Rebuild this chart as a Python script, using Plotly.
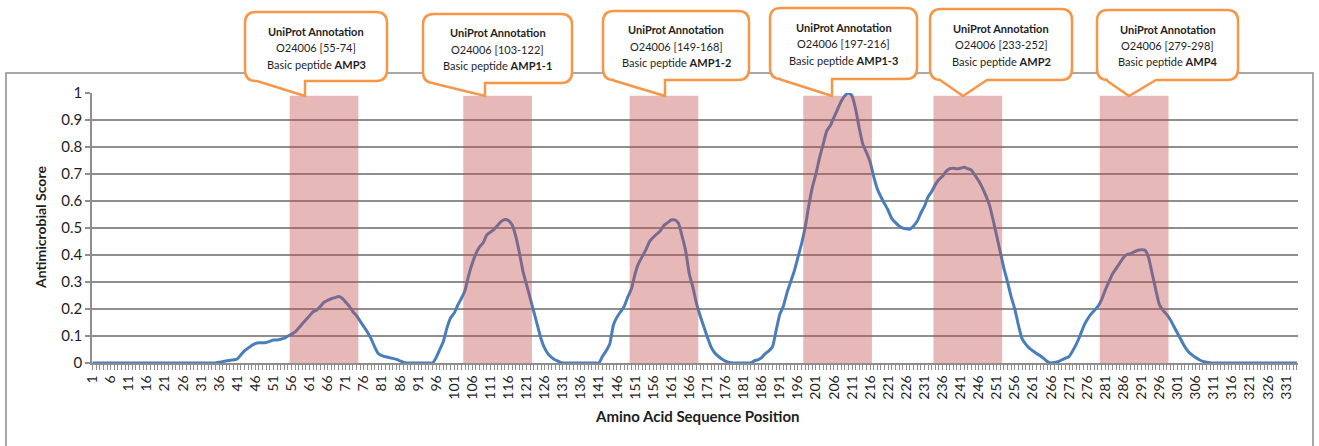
import plotly.graph_objects as go

# ---- data -------------------------------------------------------------
positions = list(range(1, 335))

scores = (
    [0.0] * 35
    + [0.003, 0.005, 0.008, 0.010, 0.012, 0.015, 0.030, 0.045, 0.055, 0.065,   # 36-45
       0.072, 0.075, 0.075, 0.076, 0.080, 0.085, 0.085, 0.088, 0.092, 0.100,   # 46-55
       0.106, 0.115, 0.130, 0.145, 0.160, 0.175, 0.190, 0.196, 0.210, 0.225,   # 56-65
       0.232, 0.238, 0.242, 0.246, 0.240, 0.225, 0.210, 0.190, 0.175, 0.155,   # 66-75
       0.135, 0.115, 0.090, 0.060, 0.035, 0.027, 0.023, 0.020, 0.017, 0.014,   # 76-85
       0.008, 0.002]                                                          # 86-87
    + [0.0] * 8                                                               # 88-95
    + [0.020, 0.050, 0.080, 0.130, 0.168, 0.185, 0.215, 0.240, 0.270, 0.325,   # 96-105
       0.370, 0.405, 0.430, 0.445, 0.475, 0.485, 0.495, 0.510, 0.525, 0.532,   # 106-115
       0.528, 0.512, 0.470, 0.410, 0.340, 0.290, 0.240, 0.190, 0.140, 0.090,   # 116-125
       0.055, 0.033, 0.020, 0.011, 0.005]                                     # 126-130
    + [0.0] * 11                                                              # 131-141
    + [0.025, 0.045, 0.070, 0.140, 0.170, 0.190, 0.210, 0.245, 0.275, 0.330,   # 142-151
       0.370, 0.395, 0.420, 0.450, 0.465, 0.478, 0.490, 0.510, 0.520, 0.530,   # 152-161
       0.530, 0.518, 0.470, 0.415, 0.330, 0.280, 0.220, 0.175, 0.135, 0.095,   # 162-171
       0.060, 0.038, 0.025, 0.015, 0.007, 0.002]                              # 172-177
    + [0.0] * 6                                                               # 178-183
    + [0.008, 0.012, 0.020, 0.035, 0.045, 0.060, 0.120, 0.180, 0.210, 0.260,   # 184-193
       0.300, 0.340, 0.390, 0.440, 0.500, 0.580, 0.650, 0.700, 0.760, 0.810,   # 194-203
       0.860, 0.880, 0.910, 0.940, 0.970, 0.990, 1.000, 0.990, 0.940, 0.870,   # 204-213
       0.810, 0.780, 0.745, 0.690, 0.645, 0.615, 0.590, 0.565, 0.535, 0.520,   # 214-223
       0.508, 0.500, 0.497, 0.496, 0.508, 0.525, 0.555, 0.580, 0.615, 0.635,   # 224-233
       0.660, 0.680, 0.692, 0.710, 0.720, 0.722, 0.720, 0.722, 0.725, 0.720,   # 234-243
       0.715, 0.695, 0.675, 0.650, 0.620, 0.585, 0.530, 0.470, 0.410, 0.350,   # 244-253
       0.300, 0.245, 0.200, 0.140, 0.090, 0.070, 0.055, 0.045, 0.035, 0.027,   # 254-263
       0.017, 0.005, 0.000, 0.002, 0.005, 0.012, 0.018, 0.024, 0.045, 0.070,   # 264-273
       0.100, 0.135, 0.160, 0.180, 0.195, 0.210, 0.235, 0.270, 0.300, 0.330,   # 274-283
       0.350, 0.370, 0.390, 0.402, 0.405, 0.412, 0.418, 0.420, 0.418, 0.390,   # 284-293
       0.330, 0.270, 0.215, 0.195, 0.180, 0.160, 0.135, 0.110, 0.085, 0.060,   # 294-303
       0.042, 0.030, 0.020, 0.012, 0.006, 0.003, 0.001]                       # 304-310
    + [0.0] * 24                                                              # 311-334
)

# UniProt-annotated basic peptides (O24006)
accession = "O24006"
peptide_names = ["AMP3", "AMP1-1", "AMP1-2", "AMP1-3", "AMP2", "AMP4"]
peptide_start = [55, 103, 149, 197, 233, 279]
peptide_end = [74, 122, 168, 216, 252, 298]

tick_positions = positions[::5]
tick_labels = [str(p) for p in tick_positions]
y_ticks = [0, 0.1, 0.2, 0.3, 0.4, 0.5, 0.6, 0.7, 0.8, 0.9, 1]
y_tick_labels = ["0", "0.1", "0.2", "0.3", "0.4", "0.5", "0.6", "0.7", "0.8", "0.9", "1"]

# ---- layout constants (pixels) -----------------------------------------
W, H = 1319, 446
ML, MR, MT, MB = 92, 21, 93, 83
PW, PH = W - ML - MR, H - MT - MB
FONT = "Lato, 'Open Sans', sans-serif"
GRID = "#8e8e8e"
ORANGE = "#F79646"
TEXT = "#1e1e1e"


def fx(x):
    return (x - ML) / PW


def fy(y):
    return (H - MB - y) / PH


# callout boxes: left, right, top, bottom, tail-left, tip-x, tail-right
callout_boxes = [
    (245, 387, 12, 81, 257, 305, 305),
    (423, 572, 14, 83, 432, 485, 485),
    (603, 749, 11, 80, 612, 665, 665),
    (770, 917, 8, 79, 779, 832, 832),
    (930, 1072, 9, 80, 940, 963, 987),
    (1097, 1238, 10, 80, 1106, 1129, 1156),
]
TIP_Y = 96
RADIUS = 11

fig = go.Figure()

fig.add_trace(go.Scatter(
    x=positions, y=scores, mode="lines",
    line=dict(color="#4A7EBB", width=3, shape="spline", smoothing=0.5),
    hoverinfo="x+y", showlegend=False,
))

shapes = []

# outer chart frame (open at the bottom edge of the page)
shapes.append(dict(
    type="path", xref="paper", yref="paper", layer="below",
    path=f"M {fx(6)},{fy(H + 5)} L {fx(6)},{fy(73)} L {fx(1313)},{fy(73)} L {fx(1313)},{fy(H + 5)}",
    line=dict(color="#8c8c8c", width=1.5),
))

# annotated peptide regions, drawn half a step to the right of each residue
for s, e in zip(peptide_start, peptide_end):
    shapes.append(dict(
        type="rect", xref="x", yref="y", layer="above",
        x0=s + 0.5, x1=e + 0.5, y0=0, y1=0.99,
        fillcolor="rgba(192,80,77,0.40)", line=dict(width=0),
    ))

# rounded callouts with tails
for (x0, x1, y0, y1, tl, tx, tr) in callout_boxes:
    r = RADIUS
    pts = [
        ("M", [(x0 + r, y0)]),
        ("L", [(x1 - r, y0)]),
        ("Q", [(x1, y0), (x1, y0 + r)]),
        ("L", [(x1, y1 - r)]),
        ("Q", [(x1, y1), (x1 - r, y1)]),
        ("L", [(tr, y1)]),
        ("L", [(tx, TIP_Y)]),
        ("L", [(tl, y1)]),
        ("L", [(x0 + r, y1)]),
        ("Q", [(x0, y1), (x0, y1 - r)]),
        ("L", [(x0, y0 + r)]),
        ("Q", [(x0, y0), (x0 + r, y0)]),
    ]
    path = " ".join(
        cmd + " " + " ".join(f"{fx(a):.5f},{fy(b):.5f}" for a, b in coords)
        for cmd, coords in pts
    ) + " Z"
    shapes.append(dict(
        type="path", xref="paper", yref="paper", layer="above", path=path,
        fillcolor="white", line=dict(color=ORANGE, width=2.5),
    ))

annotations = []
for (x0, x1, y0, y1, tl, tx, tr), name, s, e in zip(
        callout_boxes, peptide_names, peptide_start, peptide_end):
    cx = (x0 + x1) / 2
    lines = [
        "<b>UniProt Annotation</b>",
        f"{accession} [{s}-{e}]",
        f"Basic peptide <b>{name}</b>",
    ]
    for i, t in enumerate(lines):
        annotations.append(dict(
            xref="paper", yref="paper", x=fx(cx), y=fy(y0 + 19 + 16.5 * i),
            text=t, showarrow=False, xanchor="center", yanchor="middle",
            font=dict(family=FONT, size=11, color=TEXT),
        ))

# axis titles
annotations.append(dict(
    xref="paper", yref="paper", x=fx(40), y=fy(228), text="<b>Antimicrobial Score</b>",
    textangle=-90, showarrow=False, xanchor="center", yanchor="middle",
    font=dict(family=FONT, size=14, color=TEXT),
))
annotations.append(dict(
    xref="paper", yref="paper", x=fx(697), y=fy(416), text="<b>Amino Acid Sequence Position</b>",
    showarrow=False, xanchor="center", yanchor="middle",
    font=dict(family=FONT, size=15, color=TEXT),
))

fig.update_layout(
    width=W, height=H,
    margin=dict(l=ML, r=MR, t=MT, b=MB, pad=0),
    paper_bgcolor="white", plot_bgcolor="white",
    shapes=shapes, annotations=annotations,
    showlegend=False,
    xaxis=dict(
        range=[0.85, 334.3], tickmode="array",
        tickvals=tick_positions, ticktext=tick_labels, tickangle=-90,
        ticks="outside", ticklen=5, tickwidth=1, tickcolor=GRID,
        minor=dict(tickmode="linear", tick0=1, dtick=1, ticks="outside",
                   ticklen=5, tickwidth=1, tickcolor=GRID, showgrid=False),
        showgrid=False, zeroline=False,
        showline=True, linecolor=GRID, linewidth=1.5,
        tickfont=dict(family=FONT, size=14, color=TEXT),
    ),
    yaxis=dict(
        range=[0, 1.0005], tickmode="array",
        tickvals=y_ticks, ticktext=y_tick_labels,
        ticks="outside", ticklen=5, tickwidth=1.5, tickcolor=GRID,
        showgrid=True, gridcolor=GRID, gridwidth=1.5,
        zeroline=False, showline=True, linecolor=GRID, linewidth=1.5,
        tickfont=dict(family=FONT, size=15, color=TEXT),
    ),
)

fig.write_html("out.html")
